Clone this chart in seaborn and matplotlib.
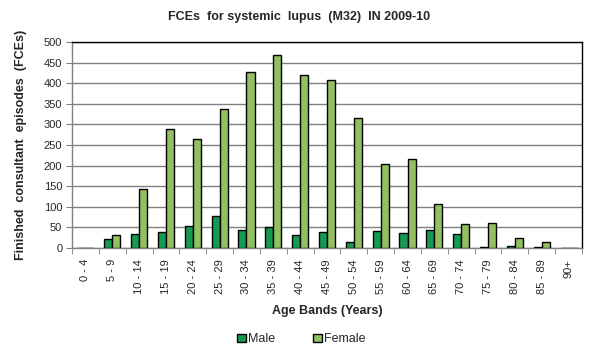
import numpy as np
import pandas as pd
import matplotlib
matplotlib.use('Agg')
import matplotlib.pyplot as plt
import seaborn as sns

age_bands = ['0 - 4', '5 - 9', '10 - 14', '15 - 19', '20 - 24', '25 - 29', '30 - 34',
             '35 - 39', '40 - 44', '45 - 49', '50 - 54', '55 - 59', '60 - 64', '65 - 69',
             '70 - 74', '75 - 79', '80 - 84', '85 - 89', '90+']
male = [1, 22, 34, 39, 53, 78, 44, 51, 32, 39, 15, 41, 36, 44, 34, 2, 5, 2, 1]
female = [1, 31, 143, 289, 265, 337, 427, 468, 420, 408, 316, 204, 216, 107, 58, 61, 24, 15, 1]

df = pd.DataFrame({'band': age_bands * 2,
                   'sex': ['Male'] * len(age_bands) + ['Female'] * len(age_bands),
                   'fces': male + female})

sns.set_style('white')
plt.rcParams['font.family'] = ['Liberation Sans', 'DejaVu Sans']

fig = plt.figure(figsize=(5.98, 3.54), dpi=100)
ax = fig.add_axes([0.1204, 0.2994, 0.8528, 0.582])
sns.barplot(data=df, x='band', y='fces', hue='sex', order=age_bands,
            hue_order=['Male', 'Female'], palette=['#00B050', '#92D050'],
            width=0.6, edgecolor='black', linewidth=1, ax=ax, zorder=3)

ax.set_ylim(0, 500)
ax.set_yticks(range(0, 501, 50))
ax.set_xlim(-0.5, len(age_bands) - 0.5)
ax.yaxis.grid(True, color='#808080', linewidth=1, zorder=0)
ax.set_axisbelow(True)
for s in ['top', 'right']:
    ax.spines[s].set_color('black')
    ax.spines[s].set_linewidth(1)
for s in ['left', 'bottom']:
    ax.spines[s].set_color('#808080')
    ax.spines[s].set_linewidth(1)

ax.tick_params(axis='y', which='major', direction='out', length=4, color='#808080',
               labelsize=8, pad=3, left=True)
ax.tick_params(axis='x', which='major', length=0, labelsize=8, pad=8, rotation=90)
ax.set_xticks(np.arange(-0.5, len(age_bands), 1), minor=True)
ax.tick_params(axis='x', which='minor', direction='out', length=4, color='#808080', bottom=True)

ax.set_xlabel('Age Bands (Years)', fontsize=9, fontweight='bold', labelpad=8)
ax.set_ylabel('Finished  consultant  episodes  (FCEs)', fontsize=9, fontweight='bold', labelpad=12)
fig.text(0.5, 0.952, 'FCEs  for systemic  lupus  (M32)  IN 2009-10', ha='center', va='center',
         fontsize=9, fontweight='bold')

ax.legend(loc='upper center', bbox_to_anchor=(0.45, -0.36), ncol=2, frameon=False,
          fontsize=9, handlelength=0.7, handleheight=0.7, columnspacing=3, handletextpad=0.2)

fig.savefig('out.png', dpi=100)
